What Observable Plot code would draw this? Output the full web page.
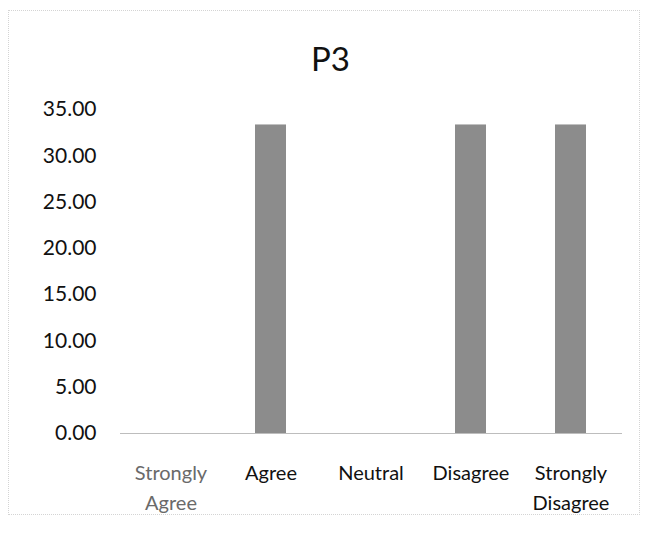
<!DOCTYPE html>
<html>
<head>
<meta charset="utf-8">
<script src="https://cdn.jsdelivr.net/npm/d3@7"></script>
<script src="https://cdn.jsdelivr.net/npm/@observablehq/plot@0.6"></script>
<style>
  html, body { margin: 0; padding: 0; background: #fff; }
  #wrap { position: relative; width: 651px; height: 539px; font-family: Lato, "Open Sans", sans-serif; }
  #frame { position: absolute; left: 8px; top: 10px; width: 632px; height: 505px; border: 1px dotted #d4d4d4; box-sizing: border-box; pointer-events: none; }
  #title { position: absolute; left: 10px; top: 0; width: 641px; height: 80px; line-height: 116px; text-align: center; font-size: 33px; color: #111; }
  #chart { position: absolute; left: 0; top: 80px; }
</style>
</head>
<body>
<div id="wrap">
  <div id="frame"></div>
  <div id="title">P3</div>
  <div id="chart"></div>
</div>
<script>
const categories = ["Strongly Agree", "Agree", "Neutral", "Disagree", "Strongly Disagree"];
const values = [0, 33.33, 0, 33.33, 33.33];
const yTicks = [0, 5, 10, 15, 20, 25, 30, 35];

const data = categories.map((c, i) => ({category: c, value: values[i]}));

const chart = Plot.plot({
  width: 651,
  height: 459,
  marginLeft: 120,
  marginRight: 29,
  marginTop: 29,
  marginBottom: 106,
  style: {fontFamily: "Lato, 'Open Sans', sans-serif", color: "#111", background: "transparent"},
  x: {domain: categories, paddingInner: 0.69, paddingOuter: 0.345, axis: null},
  y: {domain: [0, 35], axis: null},
  marks: [
    Plot.axisY({
      ticks: yTicks, tickSize: 0, tickPadding: 24, label: null,
      tickFormat: d => d.toFixed(2), fontSize: 21, fill: "#111"
    }),
    Plot.axisX({
      tickSize: 0, tickPadding: 25, label: null, fontSize: 20, lineHeight: 1.5,
      tickFormat: d => d.replace(" ", "\n"),
      fill: d => d === "Strongly Agree" ? "#6a6a6a" : "#111"
    }),
    Plot.ruleY([0], {stroke: "#bdbdbd", strokeWidth: 1}),
    Plot.barY(data, {x: "category", y: "value", fill: "#8c8c8c"})
  ]
});
document.getElementById("chart").appendChild(chart);
</script>
</body>
</html>
